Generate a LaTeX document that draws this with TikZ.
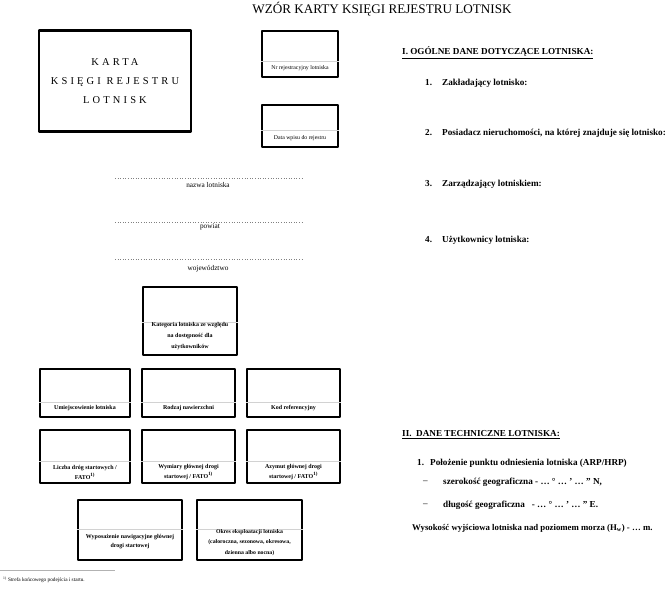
\documentclass[tikz,border=0pt]{standalone}
\usepackage{fontspec}
\setmainfont{Liberation Serif}
\begin{document}
\begin{tikzpicture}[x=1bp,y=-1bp,line join=bevel,
  cardbox/.style={draw,line width=1.6bp,inner sep=0pt},
  divider/.style={draw=gray!35,line width=0.5bp},
  boxlabel/.style={font=\fontsize{6}{10.5}\selectfont\bfseries,align=center,inner sep=0pt},
  fieldline/.style={dotted,gray,line width=0.6bp},
  fieldlabel/.style={font=\fontsize{7.3}{8}\selectfont,inner sep=0pt},
  itemtext/.style={font=\fontsize{9.2}{11}\selectfont\bfseries,anchor=west,inner sep=0pt},
]
\useasboundingbox (0,0) rectangle (670,590);
%% title
\node (title) at (382,9) [font=\fontsize{13.2}{15}\selectfont] {WZÓR KARTY KSIĘGI REJESTRU LOTNISK};
%% card boxes
\node (box_karta) at (115,81) [cardbox,line width=2.2bp,minimum width=152bp,minimum height=101bp] {};
\node (box_karta_text) at (box_karta.center) [font=\fontsize{10.5}{19}\selectfont\addfontfeatures{LetterSpace=30},align=center] {KARTA\\KSIĘGI REJESTRU\\LOTNISK};
\node (box_nr) at (300,54) [cardbox,minimum width=76bp,minimum height=46bp] {};
\node (box_data) at (300,126) [cardbox,minimum width=76bp,minimum height=42bp] {};
\node (box_kat) at (190,321) [cardbox,minimum width=94bp,minimum height=68bp] {};
\node (box_miejsce) at (85,393) [cardbox,minimum width=90bp,minimum height=48bp] {};
\node (box_nawierz) at (188.5,393) [cardbox,minimum width=93bp,minimum height=48bp] {};
\node (box_kod) at (293.5,393) [cardbox,minimum width=93bp,minimum height=48bp] {};
\node (box_liczba) at (85,456.5) [cardbox,minimum width=90bp,minimum height=53bp] {};
\node (box_wymiary) at (188.5,456.5) [cardbox,minimum width=93bp,minimum height=53bp] {};
\node (box_azymut) at (293.5,456.5) [cardbox,minimum width=93bp,minimum height=53bp] {};
\node (box_wypos) at (130,530) [cardbox,minimum width=104bp,minimum height=60bp] {};
\node (box_okres) at (249.5,530) [cardbox,minimum width=105bp,minimum height=60bp] {};
%
\draw [divider] ([yshift=17bp]box_nr.south west) -- ([yshift=17bp]box_nr.south east);
\draw [divider] ([yshift=18bp]box_data.south west) -- ([yshift=18bp]box_data.south east);
\draw [divider] ([yshift=34bp]box_kat.south west) -- ([yshift=34bp]box_kat.south east);
\draw [divider] ([yshift=16bp]box_miejsce.south west) -- ([yshift=16bp]box_miejsce.south east);
\draw [divider] ([yshift=16bp]box_nawierz.south west) -- ([yshift=16bp]box_nawierz.south east);
\draw [divider] ([yshift=16bp]box_kod.south west) -- ([yshift=16bp]box_kod.south east);
\draw [divider] ([yshift=23bp]box_liczba.south west) -- ([yshift=23bp]box_liczba.south east);
\draw [divider] ([yshift=23bp]box_wymiary.south west) -- ([yshift=23bp]box_wymiary.south east);
\draw [divider] ([yshift=23bp]box_azymut.south west) -- ([yshift=23bp]box_azymut.south east);
\draw [divider] ([yshift=32bp]box_wypos.south west) -- ([yshift=32bp]box_wypos.south east);
\draw [divider] ([yshift=32bp]box_okres.south west) -- ([yshift=32bp]box_okres.south east);
%
\node (label_nr) at (300,68) [boxlabel,font=\fontsize{5.8}{10.5}\selectfont] {Nr rejestracyjny lotniska};
\node (label_data) at (300,138) [boxlabel,font=\fontsize{5.8}{10.5}\selectfont] {Data wpisu do rejestru};
\node (label_kat) at (190,336) [boxlabel,font=\fontsize{6}{11}\selectfont\bfseries] {Kategoria lotniska ze względu\\na dostępność dla\\użytkowników};
\node (label_miejsce) at (85,408) [boxlabel] {Umiejscowienie lotniska};
\node (label_nawierz) at (188.5,408) [boxlabel] {Rodzaj nawierzchni};
\node (label_kod) at (293.5,408) [boxlabel] {Kod referencyjny};
\node (label_liczba) at (85,472) [boxlabel,font=\fontsize{6}{10}\selectfont\bfseries] {Liczba dróg startowych /\\FATO\textsuperscript{1)}};
\node (label_wymiary) at (188.5,472) [boxlabel,font=\fontsize{6}{10}\selectfont\bfseries] {Wymiary głównej drogi\\startowej / FATO\textsuperscript{1)}};
\node (label_azymut) at (293.5,472) [boxlabel,font=\fontsize{6}{10}\selectfont\bfseries] {Azymut głównej drogi\\startowej / FATO\textsuperscript{1)}};
\node (label_wypos) at (130,541.5) [boxlabel,font=\fontsize{6}{9.5}\selectfont\bfseries] {Wyposażenie nawigacyjne głównej\\drogi startowej};
\node (label_okres) at (249.5,542.5) [boxlabel,font=\fontsize{5.8}{10.5}\selectfont\bfseries] {Okres eksploatacji lotniska\\(całoroczna, sezonowa, okresowa,\\dzienna albo nocna)};
%% dotted fields
\draw [fieldline] (115,178) -- (302,178);
\draw [fieldline] (115,222) -- (302,222);
\draw [fieldline] (115,259) -- (302,259);
\node (field_nazwa) at (208,185) [fieldlabel] {nazwa lotniska};
\node (field_powiat) at (210,227) [fieldlabel] {powiat};
\node (field_woj) at (208,269) [fieldlabel] {województwo};
%% footnote
\draw [gray!60,line width=0.4bp] (0,570) -- (115,570);
\node (footnote) at (3,580) [anchor=west,inner sep=0pt,font=\fontsize{5.3}{6}\selectfont] {\textsuperscript{1)} Strefa końcowego podejścia i startu.};
%% section I
\node (sec_one) at (402,53) [itemtext] {\underline{I. OGÓLNE DANE DOTYCZĄCE LOTNISKA:}};
\node (one_1_num) at (425,83) [itemtext] {1.};
\node (one_1) at (442,83) [itemtext] {Zakładający lotnisko:};
\node (one_2_num) at (425,133) [itemtext] {2.};
\node (one_2) at (442,133) [itemtext] {Posiadacz nieruchomości, na której znajduje się lotnisko:};
\node (one_3_num) at (425,184) [itemtext] {3.};
\node (one_3) at (442,184) [itemtext] {Zarządzający lotniskiem:};
\node (one_4_num) at (425,240) [itemtext] {4.};
\node (one_4) at (442,240) [itemtext] {Użytkownicy lotniska:};
%% section II
\node (sec_two) at (402,435) [itemtext] {\underline{II.\ \ DANE TECHNICZNE LOTNISKA:}};
\node (two_1_num) at (417,463) [itemtext] {1.};
\node (two_1) at (430,463) [itemtext] {Położenie punktu odniesienia lotniska (ARP/HRP)};
\node (two_dash_a) at (423,482) [itemtext,font=\fontsize{9.2}{11}\selectfont] {–};
\node (two_lat) at (443,482) [itemtext] {szerokość geograficzna - … ° … ' … '' N,};
\node (two_dash_b) at (423,505) [itemtext,font=\fontsize{9.2}{11}\selectfont] {–};
\node (two_lon) at (443,505) [itemtext] {długość geograficzna\ \ \ - … ° … ' … '' E.};
\node (two_h) at (412,528) [itemtext,font=\fontsize{8.8}{11}\selectfont\bfseries] {Wysokość wyjściowa lotniska nad poziomem morza (H\textsubscript{w}) - … m.};
%
\end{tikzpicture}
\end{document}
